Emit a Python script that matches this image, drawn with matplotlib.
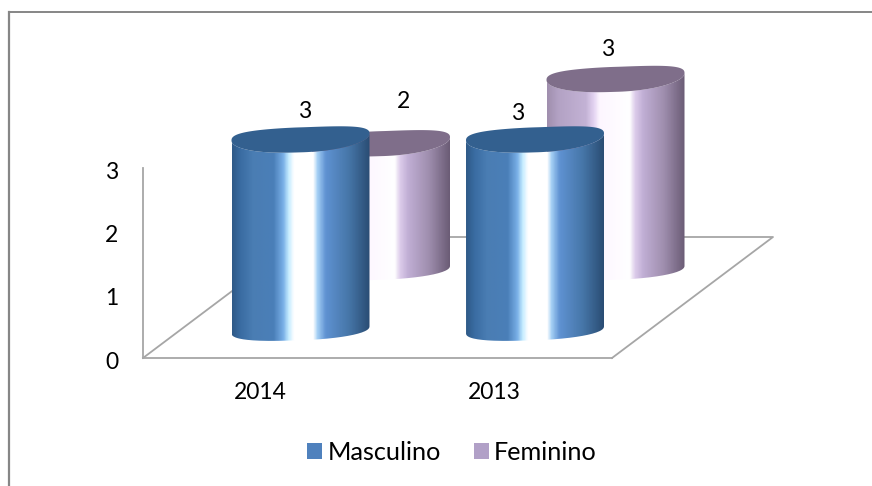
import numpy as np
import matplotlib
matplotlib.use("Agg")
import matplotlib.pyplot as plt
from matplotlib.colors import LinearSegmentedColormap
from matplotlib.lines import Line2D
from matplotlib.patches import Patch, PathPatch, Polygon
from matplotlib.path import Path
from matplotlib.transforms import ScaledTranslation

plt.rcParams["font.family"] = ["Lato", "DejaVu Sans"]

# Data
years = ["2014", "2013"]
series_names = ["Masculino", "Feminino"]
masculino = [3, 3]
feminino = [2, 3]
y_ticks = [0, 1, 2, 3]

# Styles
W, H = 872, 486
AX_L, AX_R, AX_BOTTOM, AX_TOP = 143, 612, 358, 168
PX_X = (AX_R - AX_L) / 2
PX_Y = (AX_BOTTOM - AX_TOP) / 3
DEPTH_PX = (161, 121)
HEIGHT_SCALE = 64.3 / PX_Y
RX, RY_TOP, RY_BOTTOM, TILT, SAG = 69, 12.5, 10.5, 3.5, 3
ROUNDNESS = 0.85
GREY = "#a6a6a6"
TEXT_SIZE = 16.5

BLUE_STOPS = [(0, "#2f5a88"), (0.06, "#3a6ca2"), (0.15, "#4a7db3"), (0.3, "#4a7fb8"),
              (0.37, "#78aee6"), (0.41, "#c4ecff"), (0.45, "#ffffff"), (0.59, "#ffffff"),
              (0.62, "#a5d0f5"), (0.68, "#5f92d2"), (0.85, "#4676a8"), (1, "#2a4d74")]
PURPLE_STOPS = [(0, "#a08fae"), (0.08, "#b3a2c4"), (0.28, "#c3b2d5"), (0.34, "#e4d4f2"),
                (0.38, "#fdf6ff"), (0.6, "#ffffff"), (0.64, "#dccbea"), (0.7, "#c0aed4"),
                (0.85, "#9f8eae"), (1, "#6b5c76")]
SERIES_STYLE = [
    {"depth": 0.25, "stops": BLUE_STOPS, "cap": "#33608f", "legend": "#4f81bd", "z": 5},
    {"depth": 0.75, "stops": PURPLE_STOPS, "cap": "#7f6e8a", "legend": "#b1a0c7", "z": 3},
]
# label nudges in pixels from the top of each cylinder
LABEL_NUDGE = [[(4, 25), (-17, 23)], [(23, 39), (-8, 27)]]

fig = plt.figure(figsize=(W / 100, H / 100), dpi=100, facecolor="white")
ax = fig.add_axes([AX_L / W, 1 - AX_BOTTOM / H, (AX_R - AX_L) / W, (AX_BOTTOM - AX_TOP) / H])
ax.set_facecolor("none")


def draw_cylinder(x, value, depth, stops, cap, z):
    cx = x + depth * DEPTH_PX[0] / PX_X
    y0 = (depth * DEPTH_PX[1] - 2) / PX_Y
    y1 = y0 + value * HEIGHT_SCALE

    def rim(cy, t, ry, sag):
        c = np.cos(t)
        s = np.sin(t)
        # slightly squared ellipse, the caps in the chart are not true ellipses
        round_c = np.sign(c) * np.abs(c) ** ROUNDNESS
        round_s = np.sign(s) * np.abs(s) ** ROUNDNESS
        return np.column_stack([
            cx + RX * round_c / PX_X,
            cy + (ry * round_s + TILT * c - sag * s**2) / PX_Y,
        ])

    front = np.linspace(0, -np.pi, 80)
    body = np.vstack([rim(y1, front, RY_TOP, SAG), rim(y0, front[::-1], RY_BOTTOM, 0),
                      rim(y1, front[:1], RY_TOP, SAG)])
    clip = PathPatch(Path(body), facecolor="none", edgecolor="none", transform=ax.transData)
    ax.add_patch(clip)
    clip.set_clip_on(False)

    cmap = LinearSegmentedColormap.from_list("shade", stops)
    im = ax.imshow(
        np.linspace(0, 1, 300)[None, :],
        cmap=cmap,
        aspect="auto",
        interpolation="bilinear",
        extent=(cx - RX / PX_X, cx + RX / PX_X, y0 - 0.5, y1 + 0.5),
        zorder=z,
    )
    im.set_clip_path(clip)
    im.set_clip_box(fig.bbox)

    ax.add_patch(Polygon(rim(y1, np.linspace(0, 2 * np.pi, 160), RY_TOP, SAG), closed=True,
                         facecolor=cap, edgecolor="none", zorder=z + 0.5, clip_on=False))
    return cx, y1


# Floor
depth_x = DEPTH_PX[0] / PX_X
depth_y = DEPTH_PX[1] / PX_Y
ax.plot([-0.5, -0.5 + depth_x, 1.5 + depth_x, 1.5], [0, depth_y, depth_y, 0],
        color=GREY, linewidth=1.3, clip_on=False, zorder=1)

# Cylinders, back row first
values = [masculino, feminino]
for s in [1, 0]:
    style = SERIES_STYLE[s]
    for i, val in enumerate(values[s]):
        cx, top = draw_cylinder(i, val, style["depth"], style["stops"], style["cap"], style["z"])
        ax.annotate(str(val), (cx, top), xytext=LABEL_NUDGE[s][i], textcoords="offset pixels",
                    ha="center", va="center", fontsize=TEXT_SIZE, color="black", zorder=8,
                    annotation_clip=False)

ax.set_xlim(-0.5, 1.5)
ax.set_ylim(0, 3)
ax.set_xticks(range(len(years)))
ax.set_xticklabels(years, fontsize=TEXT_SIZE)
ax.set_yticks(y_ticks)
ax.tick_params(axis="x", length=0, pad=17)
ax.tick_params(axis="y", length=0, pad=18, labelsize=TEXT_SIZE)
shift_down = ScaledTranslation(0, -1.5 / 72, fig.dpi_scale_trans)
for label in ax.get_yticklabels():
    label.set_transform(label.get_transform() + shift_down)
for name in ["top", "right"]:
    ax.spines[name].set_visible(False)
for name in ["left", "bottom"]:
    ax.spines[name].set_color(GREY)
    ax.spines[name].set_linewidth(1.3)

# Legend
handles = [Patch(facecolor=SERIES_STYLE[i]["legend"], label=series_names[i]) for i in range(2)]
fig.legend(handles=handles, ncols=2, frameon=False, fontsize=18.2, loc="center",
           bbox_to_anchor=(452 / W, 1 - 452 / H), handlelength=0.6, handleheight=0.6,
           handletextpad=0.2, columnspacing=1.3)

# Chart frame, only left and top are inside the picture
fig.add_artist(Line2D([9 / W, 9 / W], [0, 1 - 12 / H], color="#868686", linewidth=1.6))
fig.add_artist(Line2D([9 / W, 1], [1 - 12.5 / H, 1 - 12.5 / H], color="#868686", linewidth=1.4))

fig.savefig("out.png", dpi=100)
